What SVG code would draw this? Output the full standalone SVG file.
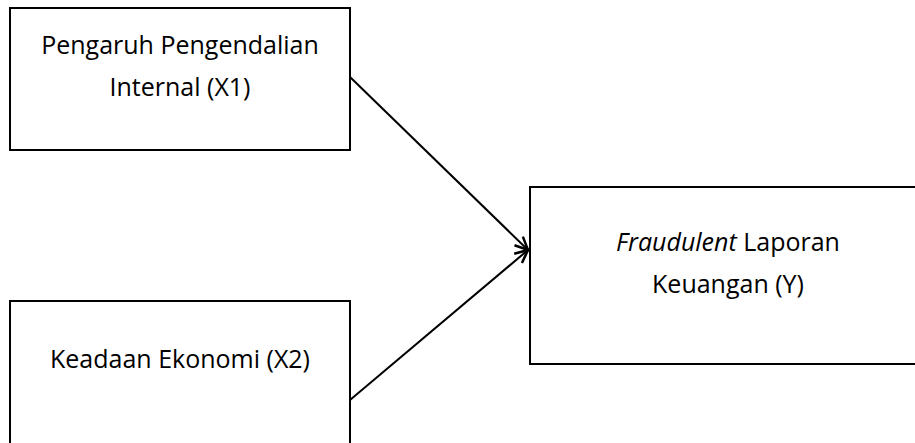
<svg xmlns="http://www.w3.org/2000/svg" width="915" height="443" viewBox="0 0 915 443">
<style>
.box{fill:#fff;stroke:#000;stroke-width:2}
.lbl{font-family:"Open Sans","Liberation Sans",sans-serif;font-size:25px;fill:#000;text-anchor:middle}
.conn{stroke:#000;stroke-width:2;fill:none}
</style>
<defs>
<marker id="arr" markerUnits="userSpaceOnUse" markerWidth="30" markerHeight="30" refX="0" refY="0" viewBox="-15 -15 30 30" orient="auto" overflow="visible">
<path d="M-13,-6 L0,0 L-13,6" fill="none" stroke="#000" stroke-width="2.5"/>
</marker>
</defs>
<rect width="915" height="443" fill="#fff"/>
<g id="node-x1">
<rect class="box" x="10" y="8" width="340" height="142"/>
<text class="lbl" x="180" y="54">Pengaruh Pengendalian</text>
<text class="lbl" x="180" y="96">Internal (X1)</text>
</g>
<g id="node-x2">
<rect class="box" x="10" y="301" width="340" height="160"/>
<text class="lbl" x="180" y="368">Keadaan Ekonomi (X2)</text>
</g>
<g id="node-y">
<rect class="box" x="530" y="187" width="400" height="177"/>
<text class="lbl" x="728" y="251"><tspan font-style="italic">Fraudulent</tspan> Laporan</text>
<text class="lbl" x="728" y="293">Keuangan (Y)</text>
</g>
<g id="connectors">
<line class="conn" x1="350" y1="77" x2="528" y2="250" marker-end="url(#arr)"/>
<line class="conn" x1="350" y1="400" x2="528" y2="250" marker-end="url(#arr)"/>
</g>
</svg>
